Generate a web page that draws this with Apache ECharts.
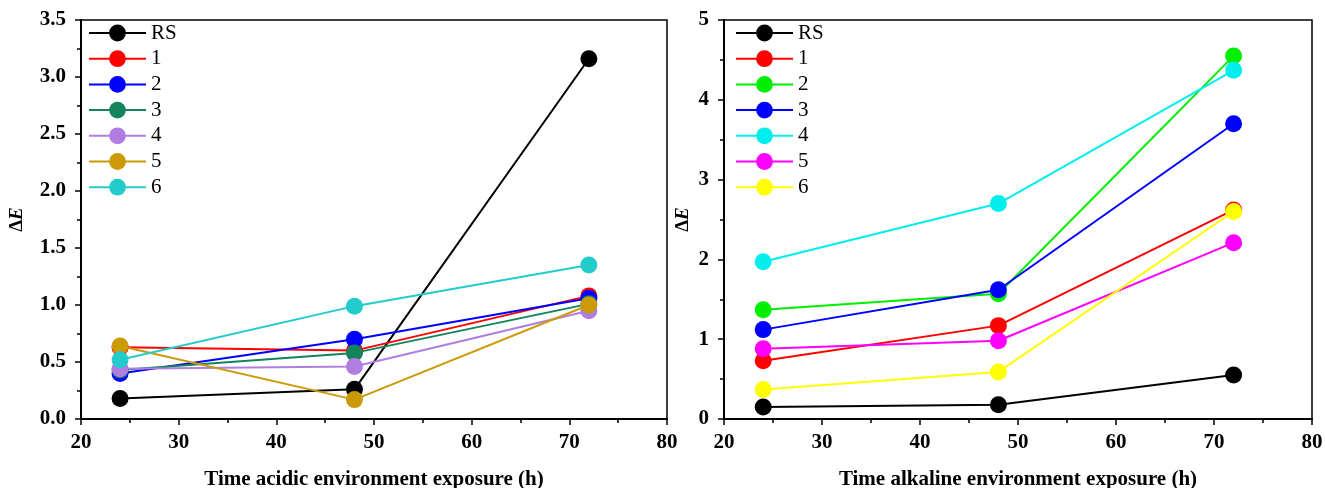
<!DOCTYPE html>
<html>
<head>
<meta charset="utf-8">
<script src="https://cdn.jsdelivr.net/npm/echarts@6/dist/echarts.min.js"></script>
<style>
  html, body { margin: 0; padding: 0; background: #fff; }
  #chart { width: 1325px; height: 488px; }
</style>
</head>
<body>
<div id="chart"></div>
<script>
// exposure times (h)
var hours = [24, 48, 72];
var seriesNames = ['RS', '1', '2', '3', '4', '5', '6'];

// acidic environment, ΔE
var acidRS = [0.18, 0.26, 3.16];
var acid1 = [0.63, 0.60, 1.08];
var acid2 = [0.40, 0.70, 1.06];
var acid3 = [0.43, 0.58, 1.01];
var acid4 = [0.44, 0.46, 0.95];
var acid5 = [0.64, 0.17, 1.00];
var acid6 = [0.52, 0.99, 1.35];

// alkaline environment, ΔE
var alkRS = [0.15, 0.18, 0.55];
var alk1 = [0.73, 1.17, 2.62];
var alk2 = [1.37, 1.57, 4.55];
var alk3 = [1.12, 1.62, 3.70];
var alk4 = [1.97, 2.70, 4.37];
var alk5 = [0.88, 0.98, 2.21];
var alk6 = [0.37, 0.59, 2.60];

var acidColors = ['#000000', '#ff0000', '#0000ff', '#13845c', '#b07ee0', '#cc9a06', '#22cccc'];
var alkColors = ['#000000', '#ff0000', '#00ee00', '#0000ff', '#00eeee', '#ff00ff', '#ffff00'];

var acidData = [acidRS, acid1, acid2, acid3, acid4, acid5, acid6];
var alkData = [alkRS, alk1, alk2, alk3, alk4, alk5, alk6];

var FONT = '"Liberation Serif", "DejaVu Serif", serif';

function pairs(vals) {
    return hours.map(function (h, i) { return [h, vals[i]]; });
}

// suffix keeps the two panels' legends apart
function makeSeries(data, colors, idx, suffix) {
    return data.map(function (vals, i) {
        return {
            name: seriesNames[i] + suffix,
            type: 'line',
            xAxisIndex: idx,
            yAxisIndex: idx,
            data: pairs(vals),
            symbol: 'circle',
            symbolSize: 17,
            color: colors[i],
            lineStyle: { width: 2, color: colors[i] },
            itemStyle: { color: colors[i] }
        };
    });
}

function xAxisCfg(idx, name) {
    return {
        type: 'value', gridIndex: idx, min: 20, max: 80, interval: 10,
        name: name, nameLocation: 'middle', nameGap: 50,
        nameTextStyle: { fontFamily: FONT, fontWeight: 'bold', fontSize: 21, color: '#000' },
        axisLine: { lineStyle: { color: '#000', width: 2 } },
        axisTick: { show: true, length: 6, lineStyle: { color: '#000', width: 1.5 } },
        minorTick: { show: true, splitNumber: 2, length: 4, lineStyle: { color: '#000', width: 1.5 } },
        splitLine: { show: false },
        axisLabel: { fontFamily: FONT, fontWeight: 'bold', fontSize: 21, color: '#000', margin: 13 }
    };
}

function yAxisCfg(idx, max, interval, gap, digits) {
    return {
        type: 'value', gridIndex: idx, min: 0, max: max, interval: interval,
        name: '{d|Δ}{e|E}', nameLocation: 'middle', nameGap: gap,
        nameTextStyle: {
            rich: {
                d: { fontFamily: FONT, fontWeight: 'bold', fontSize: 19, color: '#000' },
                e: { fontFamily: FONT, fontWeight: 'bold', fontStyle: 'italic', fontSize: 19, color: '#000' }
            }
        },
        axisLine: { lineStyle: { color: '#000', width: 2 } },
        axisTick: { show: true, length: 6, lineStyle: { color: '#000', width: 1.5 } },
        minorTick: { show: true, splitNumber: 2, length: 4, lineStyle: { color: '#000', width: 1.5 } },
        splitLine: { show: false },
        axisLabel: {
            fontFamily: FONT, fontWeight: 'bold', fontSize: 21, color: '#000', margin: 15,
            formatter: function (v) { return v.toFixed(digits); }
        }
    };
}

function legendCfg(left, suffix) {
    return {
        orient: 'vertical', left: left, top: 22.5, padding: 0,
        itemGap: 4.7, itemWidth: 57, itemHeight: 21,
        data: seriesNames.map(function (n) { return n + suffix; }),
        formatter: function (n) { return n.trim(); },
        textStyle: { fontFamily: FONT, fontSize: 21, color: '#000', lineHeight: 21 },
        selectedMode: false
    };
}

var chart = echarts.init(document.getElementById('chart'), null, { renderer: 'canvas' });

var option = {
    backgroundColor: '#fff',
    animation: false,
    grid: [
        { left: 81, top: 20, width: 586, height: 399, outerBoundsMode: 'none', show: true, borderColor: '#000', borderWidth: 1.5, backgroundColor: 'transparent' },
        { left: 724, top: 20, width: 588, height: 399, outerBoundsMode: 'none', show: true, borderColor: '#000', borderWidth: 1.5, backgroundColor: 'transparent' }
    ],
    xAxis: [
        xAxisCfg(0, 'Time acidic environment exposure (h)'),
        xAxisCfg(1, 'Time alkaline environment exposure (h)')
    ],
    yAxis: [
        yAxisCfg(0, 3.5, 0.5, 54, 1),
        yAxisCfg(1, 5, 1, 31, 0)
    ],
    legend: [
        legendCfg(88, ''),
        legendCfg(735, ' ')
    ],
    series: makeSeries(acidData, acidColors, 0, '').concat(makeSeries(alkData, alkColors, 1, ' '))
};

chart.setOption(option);
</script>
</body>
</html>
